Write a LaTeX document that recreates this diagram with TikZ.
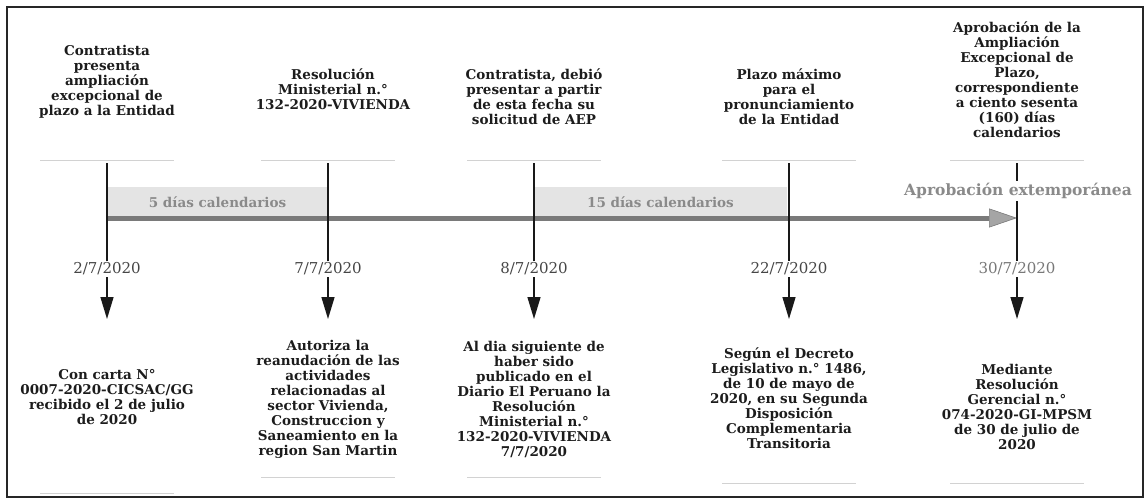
\documentclass[tikz,border=0pt]{standalone}
\usepackage{fontspec}
\setmainfont{DejaVu Serif}
\usetikzlibrary{arrows.meta}
\definecolor{bartxt}{RGB}{138,138,138}
\definecolor{barfill}{RGB}{228,228,228}
\definecolor{shaft}{RGB}{122,122,122}
\definecolor{headfill}{RGB}{165,165,165}
\definecolor{ink}{RGB}{28,28,28}
\definecolor{dateink}{RGB}{70,70,70}
\definecolor{datelight}{RGB}{120,120,120}
\definecolor{faint}{RGB}{210,210,210}
\begin{document}
\begin{tikzpicture}[x=1pt,y=-1pt,
  eventtext/.style={font=\bfseries\fontsize{13.5}{15}\selectfont, align=center, text=ink, inner sep=0pt},
  datetext/.style={font=\fontsize{15}{17}\selectfont, text=dateink, fill=white, inner sep=2pt},
  daybox/.style={fill=barfill, text=bartxt, font=\bfseries\fontsize{13.5}{15}\selectfont, inner sep=0pt},
  exttext/.style={font=\bfseries\fontsize{15.5}{18}\selectfont, text=bartxt, fill=white, inner sep=2pt},
  vline/.style={draw=black!90, line width=1.4pt},
  varrow/.style={vline, -{Triangle[width=13pt,length=22pt]}},
  timeline/.style={draw=shaft, line width=5pt, -{Triangle[width=19pt,length=28pt,line width=0.6pt,fill=headfill]}},
  faintline/.style={draw=faint, line width=1pt},
  frame/.style={draw=black!85, line width=1.6pt}]
\fill[white] (0,0) rectangle (1148,500);
\useasboundingbox (0,0) rectangle (1148,500);
\draw[frame] (7,7) rectangle (1143,497);

% column coordinates
\coordinate (t1) at (107,163);
\coordinate (t2) at (328,163);
\coordinate (t3) at (534,163);
\coordinate (t4) at (789,163);
\coordinate (t5) at (1017,163);
\coordinate (e1) at (107,319);
\coordinate (e2) at (328,319);
\coordinate (e3) at (534,319);
\coordinate (e4) at (789,319);
\coordinate (e5) at (1017,319);
\coordinate (bs) at (107,218);
\coordinate (be) at (1017,218);

% day boxes
\node[daybox, minimum width=221pt, minimum height=30pt] (p1) at (217.5,202) {5 días calendarios};
\node[daybox, minimum width=253pt, minimum height=30pt] (p2) at (660.5,202) {15 días calendarios};

% timeline
\draw[timeline] (bs) -- (be);

% dates
\node[datetext] (d1) at (107,269) {2/7/2020};
\node[datetext] (d2) at (328,269) {7/7/2020};
\node[datetext] (d3) at (534,269) {8/7/2020};
\node[datetext] (d4) at (789,269) {22/7/2020};
\node[datetext, text=datelight] (d5) at (1017,269) {30/7/2020};

% vertical lines and arrows
\foreach \i in {1,...,5}{
  \draw[vline] (t\i) -- (d\i.north);
  \draw[varrow] (d\i.south) -- (e\i);
}

\node[exttext] (ext) at (1018,191) {Aprobación extemporánea};

% top texts
\node[eventtext] (a1) at (107,82) {Contratista\\presenta\\ampliación\\excepcional de\\plazo a la Entidad};
\node[eventtext] (a2) at (333,89) {Resolución\\Ministerial n.°\\132-2020-VIVIENDA};
\node[eventtext] (a3) at (534,96.5) {Contratista, debió\\presentar a partir\\de esta fecha su\\solicitud de AEP};
\node[eventtext] (a4) at (789,96.5) {Plazo máximo\\para el\\pronunciamiento\\de la Entidad};
\node[eventtext] (a5) at (1017,80) {Aprobación de la\\Ampliación\\Excepcional de\\Plazo,\\correspondiente\\a ciento sesenta\\(160) días\\calendarios};

% bottom texts
\node[eventtext] (b1) at (107,397) {Con carta N°\\0007-2020-CICSAC/GG\\recibido el 2 de julio\\de 2020};
\node[eventtext] (b2) at (328,399) {Autoriza la\\reanudación de las\\actividades\\relacionadas al\\sector Vivienda,\\Construccion y\\Saneamiento en la\\region San Martin};
\node[eventtext] (b3) at (534,399) {Al dia siguiente de\\haber sido\\publicado en el\\Diario El Peruano la\\Resolución\\Ministerial n.°\\132-2020-VIVIENDA\\7/7/2020};
\node[eventtext] (b4) at (789,398) {Según el Decreto\\Legislativo n.° 1486,\\de 10 de mayo de\\2020, en su Segunda\\Disposición\\Complementaria\\Transitoria};
\node[eventtext] (b5) at (1017,407) {Mediante\\Resolución\\Gerencial n.°\\074-2020-GI-MPSM\\de 30 de julio de\\2020};

% faint separators
\foreach \x in {107,328,534,789,1017}{
  \draw[faintline] (\x-67,160) -- (\x+67,160);
}
\draw[faintline] (40,493) -- (174,493);
\draw[faintline] (261,477) -- (395,477);
\draw[faintline] (467,477) -- (601,477);
\draw[faintline] (722,483) -- (856,483);
\draw[faintline] (950,483) -- (1084,483);
\end{tikzpicture}
\end{document}
